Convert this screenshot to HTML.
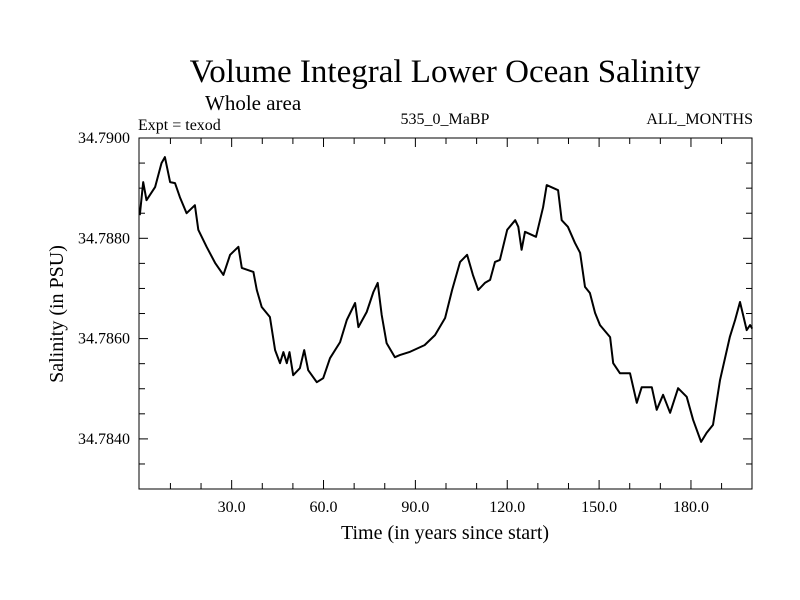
<!DOCTYPE html>
<html><head><meta charset="utf-8"><style>
body{margin:0;background:#fff;}
svg{display:block;font-family:"Liberation Serif",serif;}
</style></head><body>
<svg id="chart" width="800" height="600" viewBox="0 0 800 600">
<text x="445" y="82" font-size="33" text-anchor="middle">Volume Integral Lower Ocean Salinity</text>
<text x="205" y="110" font-size="21">Whole area</text>
<text x="138" y="130" font-size="16">Expt = texod</text>
<text x="445" y="124" font-size="16" text-anchor="middle">535_0_MaBP</text>
<text x="753" y="124" font-size="16" text-anchor="end">ALL_MONTHS</text>
<text x="445" y="539" font-size="20" text-anchor="middle">Time (in years since start)</text>
<text x="0" y="0" font-size="20" text-anchor="middle" transform="translate(63,314) rotate(-90)">Salinity (in PSU)</text>
<g id="ticks"></g>
<path id="series" fill="none" stroke="#000" stroke-width="2" stroke-linejoin="round"/>
<rect x="139" y="138" width="613" height="351" fill="none" stroke="#000" stroke-width="1"/>
</svg>
<script>
const years=[0,1.1,2.2,5,7.1,8.2,9.9,11.5,13.1,15.3,18,19.1,21.8,24.6,27.3,29.5,32.2,33.3,37.1,38.2,39.8,42.5,44.2,45.8,46.9,48,48.9,50.1,52.3,53.7,55,57.8,59.9,62.1,65.4,67.6,70.3,71.4,74.1,76.3,77.7,79,80.6,83.3,84.9,88,93,96.4,99.7,102,104.6,106.9,108.8,110.5,112.7,114.4,116,117.6,120,122.6,123.6,124.7,125.8,129.4,131.7,132.9,136.6,137.8,139.8,142.1,143.8,145.4,147,148.7,150.3,153.6,154.6,156.8,160.1,162.3,163.9,167.2,168.8,170.9,173.2,175.8,178.6,180.7,183.3,185.1,187.2,189.5,192.7,194.4,196,198.2,199.3,200];
const salinity=[34.78846,34.78912,34.78876,34.78902,34.78950,34.78962,34.78912,34.78910,34.78882,34.78850,34.78866,34.78817,34.78783,34.78751,34.78727,34.78767,34.78783,34.78741,34.78733,34.78697,34.78663,34.78643,34.78577,34.78551,34.78573,34.78551,34.78573,34.78527,34.78541,34.78577,34.78537,34.78513,34.78521,34.78561,34.78593,34.78637,34.78671,34.78623,34.78653,34.78693,34.78711,34.78647,34.78591,34.78563,34.78567,34.78573,34.78587,34.78607,34.78641,34.78697,34.78753,34.78767,34.78727,34.78697,34.78711,34.78717,34.78753,34.78757,34.78817,34.78836,34.78823,34.78777,34.78813,34.78803,34.78862,34.78906,34.78896,34.78836,34.78823,34.78791,34.78771,34.78703,34.78691,34.78651,34.78627,34.78603,34.78551,34.78531,34.78531,34.78472,34.78503,34.78503,34.78458,34.78488,34.78452,34.78501,34.78484,34.78438,34.78394,34.78412,34.78428,34.78517,34.78603,34.78637,34.78673,34.78617,34.78627,34.78620];
const xTickLabels=[30,60,90,120,150,180];
const yTickLabels=[34.784,34.786,34.788,34.790];
const X0=139.8,XS=3.062,Y0=138,YT=34.790,YS=100.3/0.002;
function xs(v){return X0+v*XS;}
function ys(v){return Y0+(YT-v)*YS;}
const ns="http://www.w3.org/2000/svg";
const tg=document.getElementById('ticks');
function line(x1,y1,x2,y2,name){const l=document.createElementNS(ns,'line');
l.setAttribute('x1',x1);l.setAttribute('y1',y1);l.setAttribute('x2',x2);l.setAttribute('y2',y2);
l.setAttribute('stroke','#000');l.setAttribute('stroke-width','1');


tg.appendChild(l);}
function text(x,y,s,anchor,name){const t=document.createElementNS(ns,'text');
t.setAttribute('x',x);t.setAttribute('y',y);t.setAttribute('font-size','16');t.setAttribute('text-anchor',anchor);t.textContent=s;


tg.appendChild(t);}
for(let yr=10;yr<200;yr+=10){const x=xs(yr);const L=(yr%30===0)?9:6;
line(x,489,x,489-L,'x-tick');line(x,138,x,138+L,'x-tick');}
xTickLabels.forEach(v=>text(xs(v),512,v.toFixed(1),'middle','x-tick-label'));
for(let k=0;k<14;k++){const v=34.7900-k*0.0005;const y=ys(v);if(y>=489)break;const L=(k%4===0)?9:6;
line(139,y,139+L,y,'y-tick');line(752,y,752-L,y,'y-tick');}
yTickLabels.forEach(v=>text(130,ys(v)+5,v.toFixed(4),'end','y-tick-label'));
let d='';years.forEach((yr,i)=>{d+=(i?'L':'M')+xs(yr).toFixed(1)+' '+ys(salinity[i]).toFixed(1);});
document.getElementById('series').setAttribute('d',d);
</script>
</body></html>
